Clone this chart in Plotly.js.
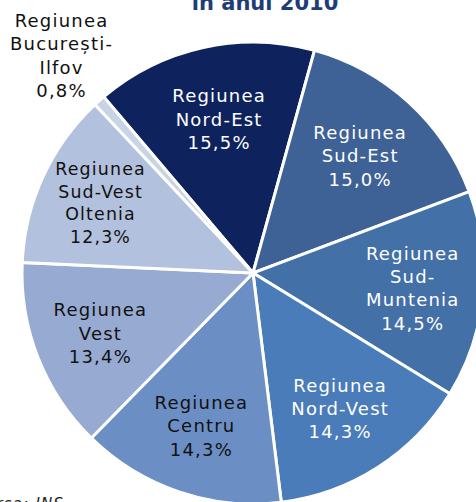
<!DOCTYPE html>
<html>
<head>
<meta charset="utf-8">
<script src="https://cdn.plot.ly/plotly-3.0.1.min.js"></script>
<style>
html, body { margin:0; padding:0; overflow:hidden; background:#fff; }
#chart { width:520px; height:540px; }
.slicetext text, .slicetext, .annotation-text { letter-spacing: 1.2px; }
</style>
</head>
<body>
<div id="chart"></div>
<script>
// Data
const regions = [
  "Regiunea<br>Nord-Est",
  "Regiunea<br>Sud-Est",
  "Regiunea<br>Sud-<br>Muntenia",
  "Regiunea<br>Nord-Vest",
  "Regiunea<br>Centru",
  "Regiunea<br>Vest",
  "Regiunea<br>Sud-Vest<br>Oltenia",
  "Regiunea<br>București-<br>Ilfov"
];
const shares = [15.5, 15.0, 14.5, 14.3, 14.3, 13.4, 12.3, 0.8];
const sliceColors = ["#0E235E", "#3E6296", "#4270A7", "#4A7CBA", "#6B8FC4", "#97AAD1", "#B2C1DD", "#C8D3E6"];
const textColors = ["#ffffff", "#ffffff", "#ffffff", "#ffffff", "#111111", "#111111", "#111111", "#111111"];
const textPositions = ["inside", "inside", "inside", "inside", "inside", "inside", "inside", "none"];

const W = 520, H = 540;
const cx = 253, cy = 273, R = 231;
const rotation = -40.3;

const fmt = v => v.toFixed(1).replace(".", ",") + "%";
const labelTexts = regions.map((r, i) => r + "<br>" + fmt(shares[i]));

const trace = {
  type: "pie",
  labels: regions,
  values: shares,
  text: labelTexts,
  textinfo: "text",
  hoverinfo: "none",
  sort: false,
  direction: "clockwise",
  rotation: rotation,
  textposition: textPositions,
  insidetextorientation: "horizontal",
  textfont: { family: "DejaVu Sans", size: 18, color: textColors },
  marker: { colors: sliceColors, line: { color: "#ffffff", width: 3 } },
  domain: { x: [(cx - R) / W, (cx + R) / W], y: [(H - cy - R) / H, (H - cy + R) / H] },
  showlegend: false
};

// Outside label for the tiny slice, anchored at the slice's mid-angle on the rim
const total = shares.reduce((a, b) => a + b, 0);
const last = shares.length - 1;
const before = shares.slice(0, last).reduce((a, b) => a + b, 0);
const midDeg = rotation + (before + shares[last] / 2) / total * 360;
const midRad = midDeg * Math.PI / 180;
const rimX = cx + R * Math.sin(midRad);
const rimY = cy - R * Math.cos(midRad);

const layout = {
  width: W, height: H,
  margin: { l: 0, r: 0, t: 0, b: 0 },
  paper_bgcolor: "#ffffff",
  showlegend: false,
  title: {
    text: "în anul 2010",
    font: { family: "DejaVu Sans", size: 21, color: "#1E3C78", weight: "bold" },
    x: 265 / W, xanchor: "center", xref: "container",
    y: 0.996, yanchor: "middle", yref: "container"
  },
  annotations: [{
    text: labelTexts[last],
    xref: "paper", yref: "paper",
    x: rimX / W, y: (H - rimY) / H,
    xanchor: "center", yanchor: "bottom",
    xshift: -38, yshift: -2,
    showarrow: false,
    font: { family: "DejaVu Sans", size: 18, color: "#111111" }
  }, {
    text: "Sursa: INS",
    xref: "paper", yref: "paper",
    x: 66 / W, xanchor: "right",
    y: (H - 493) / H, yanchor: "top",
    showarrow: false,
    font: { family: "DejaVu Sans", size: 15, color: "#222222", style: "italic" }
  }]
};

Plotly.newPlot("chart", [trace], layout, { staticPlot: true, displayModeBar: false });
</script>
</body>
</html>
